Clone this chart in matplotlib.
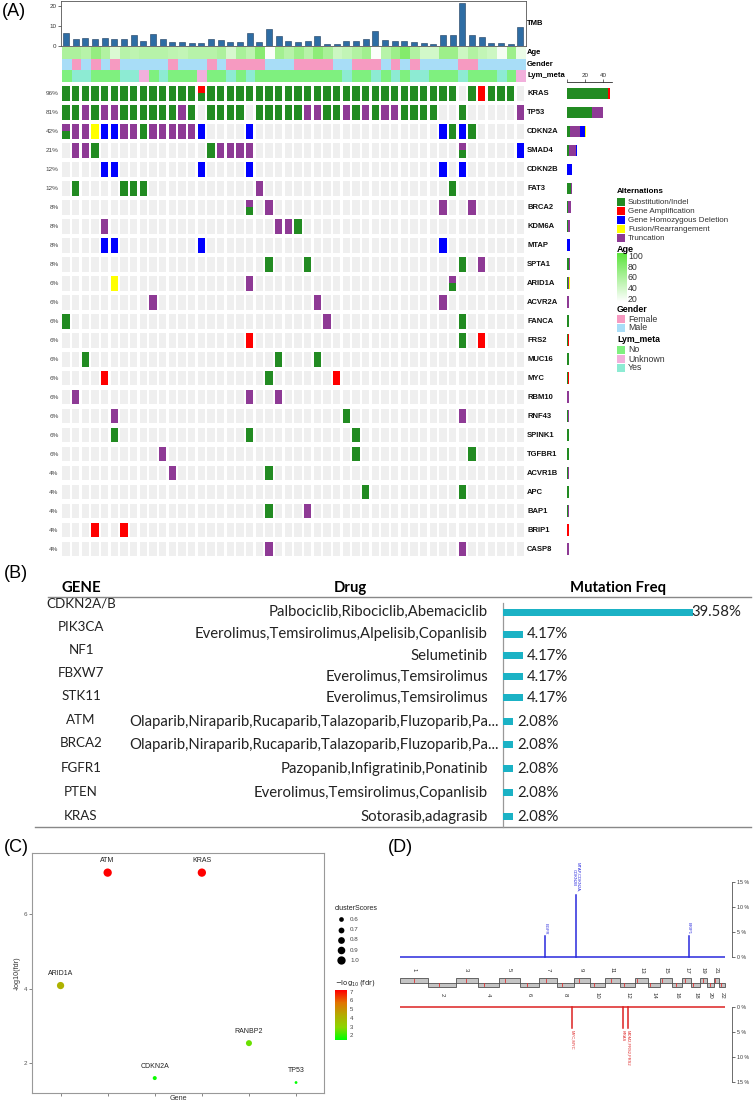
import numpy as np
import matplotlib
matplotlib.use('Agg')
import matplotlib.pyplot as plt
from matplotlib.colors import LinearSegmentedColormap, Normalize
from matplotlib.patches import Rectangle

# ======================= DATA =======================
# ---- Panel A ----
genes = ['KRAS', 'TP53', 'CDKN2A', 'SMAD4', 'CDKN2B', 'FAT3', 'BRCA2', 'KDM6A', 'MTAP', 'SPTA1',
         'ARID1A', 'ACVR2A', 'FANCA', 'FRS2', 'MUC16', 'MYC', 'RBM10', 'RNF43', 'SPINK1', 'TGFBR1',
         'ACVR1B', 'APC', 'BAP1', 'BRIP1', 'CASP8']
gene_pct = ['96%', '81%', '42%', '21%', '12%', '12%', '8%', '8%', '8%', '8%',
            '6%', '6%', '6%', '6%', '6%', '6%', '6%', '6%', '6%', '6%',
            '4%', '4%', '4%', '4%', '4%']
# G subst/indel, R amplification, B homozygous deletion, Y fusion, P truncation,
# a = amplification+subst, b = truncation+subst, . none
alterations = [
    'GGGGGGGG GGGGGGaG GGGGGGGG GGGGGGGG GGGGGGGG G.GRGGG.',  # KRAS
    'GGPGPPGG GGGGPG.G GGG.GGGG GPPGGPGP GPPGGGG. .G.....P',  # TP53
    'bPPYBBPP GPPPPPB. ...B.... ........ .......B GBG.....',  # CDKN2A
    '.PPG.... .......G PPPP.... ........ ........ .b.....B',  # SMAD4
    '....BB.. ......B. ...B.... ........ .......B .B......',  # CDKN2B
    '.G....GG G....... ....P... ........ ........ G.......',  # FAT3
    '........ ........ ...b.P.. ........ .......P ..P.....',  # BRCA2
    '....P... ........ ......PP G....... ........ ........',  # KDM6A
    '....BB.. ......B. ........ ........ .......B ........',  # MTAP
    '........ ........ .....G.. .G...... ........ .G.P....',  # SPTA1
    '.....Y.. ........ ...P.... ........ ........ b.......',  # ARID1A
    '........ .P...... ........ ..P..... .......P ........',  # ACVR2A
    'G....... ........ ........ ...P.... ........ .G......',  # FANCA
    '........ ........ ...R.... ........ ........ .G.R....',  # FRS2
    '..G..... ........ ......G. ..G..... ........ ........',  # MUC16
    '....R... ........ .....G.. ....R... ........ ........',  # MYC
    '.P...... ........ ...P..P. ........ ........ ........',  # RBM10
    '.....P.. ........ ........ .....G.. ........ .P......',  # RNF43
    '.....G.. ........ ...G.... ......G. ........ ........',  # SPINK1
    '........ ..P..... ........ ......G. ........ ..G.....',  # TGFBR1
    '........ ...P.... .....G.. ........ ........ ........',  # ACVR1B
    '........ ........ ........ .......G ........ .G......',  # APC
    '........ ........ .....G.. .P...... ........ ........',  # BAP1
    '...R..R. ........ ........ ........ ........ ........',  # BRIP1
    '........ ........ .....P.. ........ ........ .P......',  # CASP8
]
tmb = [6.2, 3.5, 3.7, 3.2, 4.0, 3.5, 3.4, 5.2, 2.4, 5.7, 3.2, 2.0, 1.7, 1.3, 1.3, 3.2,
       2.9, 1.8, 1.8, 6.2, 1.8, 8.6, 4.7, 2.4, 1.8, 2.5, 4.9, 0.8, 0.8, 2.4, 2.4, 3.4,
       7.2, 2.9, 2.4, 2.4, 1.7, 1.3, 0.7, 5.5, 5.5, 21.3, 5.5, 4.5, 1.3, 1.3, 0.7, 9.2]
age = [60, 60, 55, 72, 58, 38, 55, 52, 55, 55, 55, 52, 50, 55, 55, 55,
       60, 40, 62, 52, 78, 22, 65, 55, 68, 55, 75, 62, 45, 50, 58, 66,
       22, 55, 68, 80, 58, 42, 42, 68, 68, 45, 58, 50, 45, 25, 68, 30]
gender = 'MFMFMFMM MMMFMMMF MFFFFMMM FFFFMMFF FMFMFMMM MFFMMMMM'
lym_meta = 'NYYNNNYY UNYNNNUN NYNYNNNN NNNNNYNN YNYNYYNN NYNNNYNU'
alt_names = ['Substitution/Indel', 'Gene Amplification', 'Gene Homozygous Deletion',
             'Fusion/Rearrangement', 'Truncation']
age_ticks = [100, 80, 60, 40, 20]
gender_names = ['Female', 'Male']
lym_names = ['No', 'Unknown', 'Yes']

# ---- Panel B ----
b_genes = ['CDKN2A/B', 'PIK3CA', 'NF1', 'FBXW7', 'STK11', 'ATM', 'BRCA2', 'FGFR1', 'PTEN', 'KRAS']
b_drugs = ['Palbociclib,Ribociclib,Abemaciclib',
           'Everolimus,Temsirolimus,Alpelisib,Copanlisib',
           'Selumetinib',
           'Everolimus,Temsirolimus',
           'Everolimus,Temsirolimus',
           'Olaparib,Niraparib,Rucaparib,Talazoparib,Fluzoparib,Pa...',
           'Olaparib,Niraparib,Rucaparib,Talazoparib,Fluzoparib,Pa...',
           'Pazopanib,Infigratinib,Ponatinib',
           'Everolimus,Temsirolimus,Copanlisib',
           'Sotorasib,adagrasib']
b_freq = [39.58, 4.17, 4.17, 4.17, 4.17, 2.08, 2.08, 2.08, 2.08, 2.08]

# ---- Panel C ----
c_genes = ['ARID1A', 'ATM', 'CDKN2A', 'KRAS', 'RANBP2', 'TP53']
c_fdr = [4.08, 7.12, 1.59, 7.12, 2.53, 1.47]
c_score = [0.86, 1.0, 0.55, 1.0, 0.72, 0.48]
c_size_breaks = [0.6, 0.7, 0.8, 0.9, 1.0]
c_col_breaks = [7, 6, 5, 4, 3, 2]

# ---- Panel D ----
chrom_len = [249.25, 243.2, 198.02, 191.15, 180.92, 171.12, 159.14, 146.36, 141.21, 135.53, 135.01,
             133.85, 115.17, 107.35, 102.53, 90.35, 81.2, 78.08, 59.13, 63.03, 48.13, 51.3]
centromere = [125.0, 93.3, 91.0, 50.4, 48.4, 61.0, 59.9, 45.6, 49.0, 40.2, 53.7,
              35.8, 17.9, 17.6, 19.0, 36.6, 24.0, 17.2, 26.5, 27.5, 13.2, 14.7]
top_chrom = [7, 9, 17]
top_pos = [55.1, 21.9, 59.8]
top_freq = [4.17, 12.5, 4.17]
top_label = ['EGFR', 'MTAP,CDKN2A,\nCDKN2B', 'BRIP1']
bot_chrom = [8, 12, 12]
bot_pos = [128.7, 25.4, 69.5]
bot_freq = [4.17, 4.17, 4.17]
bot_label = ['MYC,MYC', 'KRAS', 'MDM2,FRS2,FRS2']
d_ticks = [0, 5, 10, 15]

# ======================= FIGURE =======================
W, H = 754, 1102
plt.rcParams['font.family'] = ['Liberation Sans', 'DejaVu Sans']
fig = plt.figure(figsize=(W / 100, H / 100), dpi=100)


def ax_px(l, t, w, h):
    return fig.add_axes([l / W, 1 - (t + h) / H, w / W, h / H])


ov = ax_px(0, 0, W, H)
ov.set_xlim(0, W)
ov.set_ylim(H, 0)
ov.axis('off')

for lab, x, y in [('(A)', 2, 12), ('(B)', 4, 573), ('(C)', 4, 848), ('(D)', 388, 848)]:
    ov.text(x, y, lab, fontsize=13, va='center', ha='left')

# ---------------- Panel A ----------------
COLS = {'G': '#228B22', 'R': '#FF0000', 'B': '#0000FF', 'Y': '#FFFF00', 'P': '#8E3A95'}
SPLIT = {'a': ('R', 'G'), 'b': ('P', 'G')}
alt_order = ['G', 'R', 'B', 'Y', 'P']
NC = len(tmb)
pitch_x = 9.67
X0 = 62
row_h = 18.98
grid_top = 84.0
label_x = 48.1

grid = ax_px(X0, grid_top, NC * pitch_x, len(genes) * row_h)
grid.set_xlim(0, NC)
grid.set_ylim(len(genes), 0)
grid.axis('off')
counts = []
for r, g in enumerate(genes):
    s = alterations[r].replace(' ', '')
    cnt = {k: 0 for k in COLS}
    for c, code in enumerate(s):
        x0, w, y0, h = c + 0.02, 0.76, r + 0.115, 0.77
        grid.add_patch(Rectangle((x0, y0), w, h, facecolor='#EFEFEF', lw=0))
        if code == '.':
            continue
        if code in SPLIT:
            top, bot = SPLIT[code]
            grid.add_patch(Rectangle((x0, y0), w, h / 2, facecolor=COLS[top], lw=0))
            grid.add_patch(Rectangle((x0, y0 + h / 2), w, h / 2, facecolor=COLS[bot], lw=0))
            cnt[top] += 1
            cnt[bot] += 1
        else:
            grid.add_patch(Rectangle((x0, y0), w, h, facecolor=COLS[code], lw=0))
            cnt[code] += 1
    counts.append(cnt)
    grid.text(-0.35, r + 0.5, gene_pct[r], ha='right', va='center', fontsize=4.6, color='#444444')
    grid.text(label_x, r + 0.5, g, ha='left', va='center', fontsize=5.5, fontweight='bold', color='#111111')

# TMB barplot
tmb_ax = ax_px(X0 - 1.4, 1, NC * pitch_x + 1.4, 44.7)
tmb_ax.set_xlim(-0.145, NC)
tmb_ax.set_ylim(0, 22.5)
tmb_ax.bar(np.arange(NC) + 0.4, tmb, width=0.62, color='#2E6DA4', edgecolor='#1B3A5C', linewidth=0.4)
tmb_ax.set_xticks([])
tmb_ax.set_yticks([0, 10, 20])
tmb_ax.tick_params(axis='y', labelsize=4.5, length=2, width=0.5, pad=1, colors='#333333')
for sp in tmb_ax.spines.values():
    sp.set_linewidth(0.6)
    sp.set_color('#555555')
tmb_ax.text(label_x, 11, 'TMB', ha='left', va='center', fontsize=5.5, fontweight='bold')

# annotation tracks
age_cmap = LinearSegmentedColormap.from_list('age', ['#FFFFFF', '#5CE43C'])
age_norm = Normalize(20, 100)
GEN_COL = {'F': '#F69AC1', 'M': '#A8DDF7'}
LYM_COL = {'N': '#7FF07F', 'U': '#F2B0DC', 'Y': '#8DEBD3'}
trk = ax_px(X0, 47, NC * pitch_x, 34.7)
trk.set_xlim(0, NC)
trk.set_ylim(3, 0)
trk.axis('off')
gs = gender.replace(' ', '')
ls = lym_meta.replace(' ', '')
for c in range(NC):
    trk.add_patch(Rectangle((c, 0), 1, 1, facecolor=age_cmap(age_norm(age[c])), lw=0))
    trk.add_patch(Rectangle((c, 1), 1, 1, facecolor=GEN_COL[gs[c]], lw=0))
    trk.add_patch(Rectangle((c, 2), 1, 1, facecolor=LYM_COL[ls[c]], lw=0))
for i, name in enumerate(['Age', 'Gender', 'Lym_meta']):
    trk.text(label_x, i + 0.5, name, ha='left', va='center', fontsize=5.5, fontweight='bold')

# right stacked barplot
bar_order = ['G', 'P', 'B', 'Y', 'R']
bax = ax_px(566.7, grid_top, 45, len(genes) * row_h)
bax.set_xlim(0, 49)
bax.set_ylim(len(genes), 0)
for r in range(len(genes)):
    left = 0
    for k in bar_order:
        v = counts[r][k]
        if v:
            bax.barh(r + 0.5, v, left=left, height=0.62, color=COLS[k], lw=0)
            left += v
bax.xaxis.tick_top()
bax.set_xticks([0, 20, 40])
bax.set_xticklabels(['', '20', '40'])
bax.tick_params(axis='x', labelsize=4.5, length=2, width=0.5, pad=1, colors='#333333')
bax.set_yticks([])
for k in ['left', 'right', 'bottom']:
    bax.spines[k].set_visible(False)
bax.spines['top'].set_linewidth(0.5)
bax.spines['top'].set_position(('outward', 1.3))

# legend
LX = 617
ov.text(LX, 191.7, 'Alternations', fontsize=5.8, fontweight='bold', va='center')
for i, (nm, k) in enumerate(zip(alt_names, alt_order)):
    y = 202.3 + 9 * i
    ov.add_patch(Rectangle((LX, y - 4), 8, 8, facecolor=COLS[k], lw=0))
    ov.text(LX + 11, y, nm, fontsize=5.8, va='center', color='#333333')
ov.text(LX, 249, 'Age', fontsize=6.5, fontweight='bold', va='center')
grad = np.linspace(1, 0, 100).reshape(-1, 1)
ov.imshow(grad, cmap=age_cmap, extent=(LX, LX + 10, 302, 253), aspect='auto', vmin=0, vmax=1)
for v in age_ticks:
    ov.text(LX + 11, 299 - (v - 20) / 80 * 42.3, str(v), fontsize=6.3, va='center', color='#333333')
ov.text(LX, 309, 'Gender', fontsize=6.3, fontweight='bold', va='center')
for i, (nm, k) in enumerate(zip(gender_names, ['F', 'M'])):
    y = 319 + 8.8 * i
    ov.add_patch(Rectangle((LX, y - 4.2), 8, 8.4, facecolor=GEN_COL[k], lw=0))
    ov.text(LX + 11, y, nm, fontsize=6.3, va='center', color='#333333')
ov.text(LX, 340, 'Lym_meta', fontsize=6.3, fontweight='bold', va='center')
for i, (nm, k) in enumerate(zip(lym_names, ['N', 'U', 'Y'])):
    y = 350 + 9 * i
    ov.add_patch(Rectangle((LX, y - 4.3), 8, 8.6, facecolor=LYM_COL[k], lw=0))
    ov.text(LX + 11, y, nm, fontsize=6.3, va='center', color='#333333')

# ---------------- Panel B ----------------
BFONT = ['Lato', 'DejaVu Sans']
probe = ov.text(0, 0, b_drugs[5], fontsize=10, family=BFONT)
fig.canvas.draw()
pw = probe.get_window_extent(fig.canvas.get_renderer()).width
probe.remove()
bfs = 10 * 369 / pw

gene_y = [604, 627, 650, 673, 696, 720, 743, 768, 792, 816]
row_y = [612, 634, 656, 677, 698, 722, 745, 769, 793, 817]
ov.text(81, 588, 'GENE', fontsize=bfs, fontweight='bold', family=BFONT, ha='center', va='center')
ov.text(350, 588, 'Drug', fontsize=bfs, fontweight='bold', family=BFONT, ha='center', va='center')
ov.text(618, 588, 'Mutation Freq', fontsize=bfs, fontweight='bold', family=BFONT, ha='center', va='center')
ov.plot([48, 751], [596.5, 596.5], color='#888888', lw=1.0)
ov.plot([35, 751], [826.7, 826.7], color='#888888', lw=1.0)
for i in range(len(b_genes)):
    ov.text(81, gene_y[i], b_genes[i], fontsize=bfs * 0.9, family=BFONT, ha='center', va='center',
            color='#222222')
    s = b_drugs[i]
    xr = 499 if s.endswith('...') else 488
    ov.text(xr, row_y[i], s, fontsize=bfs, family=BFONT, ha='right', va='center', color='#222222')

bb = ax_px(503.3, 598.5, 247.7, 228.2)
bb.set_xlim(0, 247.7 / 4.8)
bb.set_ylim(826.7, 598.5)
bb.barh(row_y, b_freq, height=7, color='#1BB2C5', lw=0)
for i, v in enumerate(b_freq):
    off = 0.8 if v < 30 else -0.5
    bb.text(v + off, row_y[i], f'{v:.2f}%', fontsize=bfs, family=BFONT, ha='left', va='center', color='#222222')
bb.axis('off')
ov.plot([503.3, 503.3], [603, 826.7], color='#999999', lw=0.9)

# ---------------- Panel C ----------------
c_cmap = LinearSegmentedColormap.from_list('gr', ['#00FF00', '#8CD600', '#B4AC00', '#E27400', '#FF0000'])
c_norm = Normalize(min(c_fdr), max(c_fdr))


def dot_px(sc):
    return np.sqrt(max(-48.5 + 117.5 * sc, 4.0))


cax = ax_px(32.3, 853.3, 292, 240)
cax.set_xlim(0.4, 6.6)
cax.set_ylim(1.18, 7.64)
xs = np.arange(1, len(c_genes) + 1)
cax.scatter(xs, c_fdr, s=[(dot_px(v) * 0.72) ** 2 for v in c_score],
            c=[c_cmap(c_norm(v)) for v in c_fdr], lw=0, zorder=3)
for x, y, g in zip(xs, c_fdr, c_genes):
    cax.annotate(g, (x, y), xytext=(0, 6), textcoords='offset points', ha='center', va='bottom',
                 fontsize=5, color='#222222')
cax.set_xticks(xs)
cax.set_xticklabels([])
cax.set_yticks([2, 4, 6])
cax.tick_params(labelsize=4.5, length=2, width=0.5, pad=1.5, colors='#555555')
for sp in cax.spines.values():
    sp.set_color('#999999')
    sp.set_linewidth(0.8)
cax.set_ylabel('-log10(fdr)', fontsize=5.2, labelpad=2, color='#333333')
ov.text(178, 1098.5, 'Gene', fontsize=5.2, ha='center', va='center', color='#333333')

ov.text(335, 908.3, 'clusterScores', fontsize=5, va='center', color='#222222')
for i, v in enumerate(c_size_breaks):
    y = 919.3 + 10.25 * i
    ov.scatter([340.7], [y], s=(dot_px(v) * 0.72) ** 2, color='black', lw=0)
    ov.text(350, y, f'{v:.1f}', fontsize=4.5, va='center', color='#444444')
ov.text(335, 982.7, r'$-\log_{10}(\mathrm{fdr})$', fontsize=5, va='center', color='#222222')
cb_top = 992.3 - (max(c_fdr) - 7) * 8.68
cb_bot = 992.3 + (7 - min(c_fdr)) * 8.68
grad2 = np.linspace(1, 0, 100).reshape(-1, 1)
ov.imshow(grad2, cmap=c_cmap, extent=(335, 346.7, cb_bot, cb_top), aspect='auto', vmin=0, vmax=1)
for v in c_col_breaks:
    ov.text(350, 992.3 + (7 - v) * 8.68, str(v), fontsize=4.3, va='center', color='#444444')

# ---------------- Panel D ----------------
starts = np.concatenate([[0], np.cumsum(chrom_len)[:-1]])
total = float(np.sum(chrom_len))
px_per_mb = 325.0 / total
d_width = 331.7
xmax = d_width / px_per_mb
BLUE = '#2A2ADD'
RED = '#DD2222'


def style_right(ax, inverted):
    for k in ['left', 'top', 'bottom']:
        ax.spines[k].set_visible(False)
    ax.spines['right'].set_linewidth(0.5)
    ax.spines['right'].set_color('#333333')
    ax.yaxis.tick_right()
    ax.set_yticks(d_ticks)
    ax.set_yticklabels([f'{t} %' for t in d_ticks])
    ax.tick_params(axis='y', labelsize=3.8, length=2, width=0.5, pad=1.5, colors='#333333')
    ax.set_xticks([])
    ax.set_xlim(0, xmax)
    ax.set_ylim((15, 0) if inverted else (0, 15))
    ax.patch.set_alpha(0)


tax = ax_px(400, 882, d_width, 75)
style_right(tax, False)
tax.plot([0, total], [0, 0], color=BLUE, lw=1.1, clip_on=False, solid_capstyle='butt')
for ch, p, f, lb in zip(top_chrom, top_pos, top_freq, top_label):
    x = starts[ch - 1] + p
    tax.plot([x, x], [0, f], color=BLUE, lw=1.1, clip_on=False)
    tax.annotate(lb, (x, f), xytext=(0, 1.5), textcoords='offset points', rotation=-90,
                 ha='center', va='bottom', fontsize=3, color=BLUE, multialignment='center')

lax = ax_px(400, 1007.3, d_width, 75)
style_right(lax, True)
lax.plot([0, total], [0, 0], color=RED, lw=1.1, clip_on=False, solid_capstyle='butt')
for ch, p, f, lb in zip(bot_chrom, bot_pos, bot_freq, bot_label):
    x = starts[ch - 1] + p
    lax.plot([x, x], [0, f], color=RED, lw=1.1, clip_on=False)
    lax.annotate(lb, (x, f), xytext=(0, -1.5), textcoords='offset points', rotation=-90,
                 ha='center', va='top', fontsize=3, color=RED)

iax = ax_px(400, 966, d_width, 33)
iax.set_xlim(0, xmax)
iax.set_ylim(-1, 1)
iax.axis('off')
for i, (s0, ln, cen) in enumerate(zip(starts, chrom_len, centromere)):
    odd = (i % 2 == 0)
    y0, hh = (0.0, 0.27) if odd else (-0.27, 0.27)
    iax.add_patch(Rectangle((s0, y0), ln, hh, facecolor='#C4C4C4', edgecolor='#333333', lw=0.5))
    iax.plot([s0 + cen, s0 + cen], [y0 + 0.03, y0 + hh - 0.03], color='#E03030', lw=0.6)
    iax.text(s0 + ln / 2, 0.76 if odd else -0.76, str(i + 1), rotation=-90, ha='center', va='center',
             fontsize=4.3, color='#333333')

fig.savefig('out.png', dpi=100)
